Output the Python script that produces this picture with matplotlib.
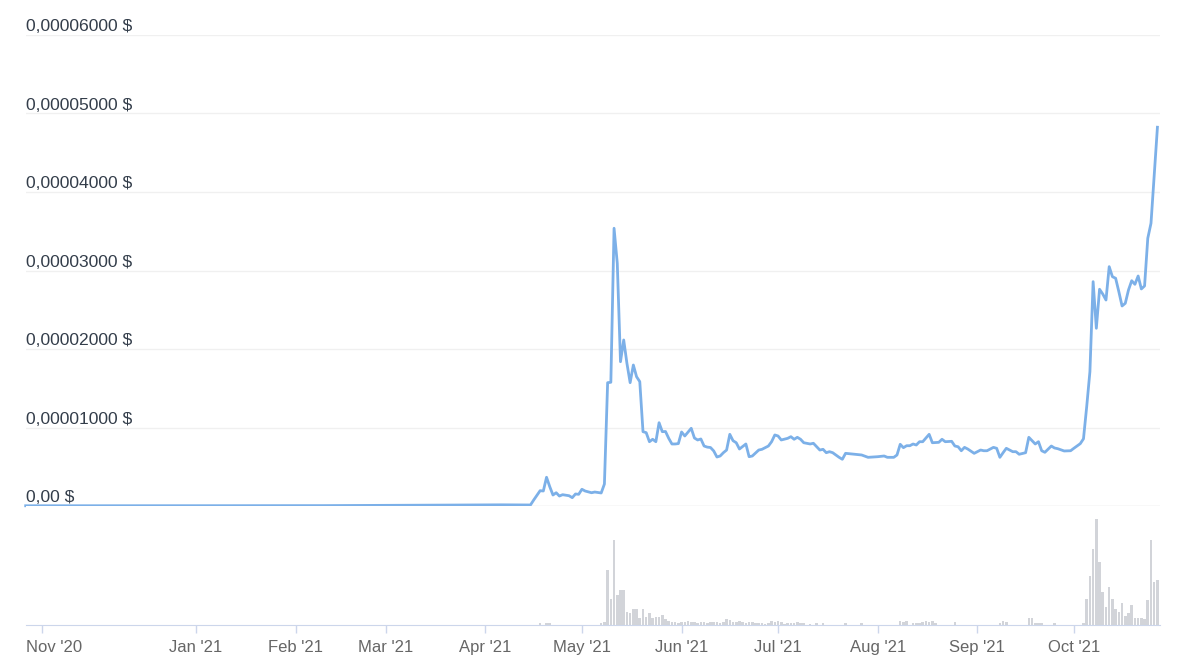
import numpy as np
import matplotlib.dates as mdates
from matplotlib import pyplot as plt

plt.rcParams['font.family'] = ['Liberation Sans', 'DejaVu Sans']

# data
BASE = np.datetime64('2021-01-01')

# price: day offset from 1 Jan 2021, price in units of 1e-8 $
price_days = [
    -53, -20, 10, 40, 60, 80, 95, 104, 105, 107, 108, 109, 110, 111, 112, 113,
    114, 116, 117, 118, 119, 120, 121, 123, 124, 126, 127, 128, 129, 130, 131,
    132, 133, 134, 135, 136, 137, 138, 139, 140, 141, 142, 143, 144, 145, 146,
    147, 148, 149, 150, 151, 152, 153, 154, 155, 156, 157, 158, 159, 160, 161,
    162, 163, 164, 165, 166, 167, 168, 169, 170, 171, 172, 173, 174, 175, 176,
    178, 179, 180, 181, 182, 184, 185, 186, 187, 188, 189, 191, 192, 193, 194,
    195, 196, 197, 198, 200, 201, 202, 205, 207, 209, 212, 214, 215, 217, 218,
    219, 220, 221, 222, 223, 224, 225, 226, 227, 228, 229, 231, 232, 233, 235,
    236, 237, 238, 239, 240, 242, 244, 245, 246, 248, 249, 250, 251, 252, 254,
    255, 256, 258, 259, 260, 261, 262, 263, 264, 266, 267, 268, 270, 272, 273,
    275, 276, 277, 278, 279, 280, 281, 282, 283, 284, 285, 286, 287, 288, 289,
    290, 291, 292, 293, 294, 295, 296, 297, 298, 299,
]
price_1e8 = [
    3, 3, 4, 5, 8, 12, 15, 13, 76, 195, 191, 366, 246, 140, 169, 127,
    144, 131, 106, 153, 149, 213, 191, 169, 178, 166, 280, 1571, 1576, 3538, 3092,
    1838, 2115, 1818, 1571, 1796, 1647, 1584, 947, 934, 819, 850, 819, 1061, 947, 949,
    862, 790, 790, 795, 943, 892, 940, 990, 866, 841, 854, 764, 750, 745, 701,
    624, 637, 679, 713, 913, 832, 806, 726, 758, 790, 628, 637, 675, 713, 722,
    764, 819, 905, 892, 841, 862, 883, 850, 875, 850, 806, 790, 799, 755, 713,
    722, 679, 692, 679, 620, 595, 671, 659, 650, 620, 628, 637, 620, 620, 650,
    786, 743, 768, 768, 790, 777, 819, 819, 866, 913, 806, 811, 850, 819, 824,
    764, 755, 704, 747, 726, 671, 713, 704, 704, 747, 735, 620, 679, 735, 692,
    692, 659, 679, 875, 832, 790, 819, 704, 684, 764, 739, 730, 701, 704, 735,
    794, 856, 1265, 1711, 2858, 2264, 2761, 2700, 2624, 3049, 2921, 2901, 2730, 2548, 2582,
    2752, 2870, 2824, 2930, 2765, 2803, 3411, 3602, 4217, 4825,
]

# daily volume (relative units), first bar on day 104
vol_first_day = 104
volume = [
    0, 0, 0, 2, 0, 2, 2, 0, 0, 0, 0, 0, 0, 0, 0, 0,            # 104-119
    0, 0, 0, 0, 0, 0, 2, 3, 55, 26, 85, 30, 35, 35, 13, 12,    # 120-135
    16, 16, 7, 16, 8, 12, 7, 8, 8, 10, 6, 4, 3, 3, 2, 3,       # 136-151
    3, 4, 3, 3, 2, 3, 3, 2, 3, 3, 3, 2, 3, 6, 5, 3,            # 152-167
    3, 4, 3, 2, 3, 3, 2, 2, 2, 1, 2, 4, 3, 4, 3, 1,            # 168-183
    2, 2, 2, 3, 2, 2, 0, 1, 0, 2, 0, 2, 0, 0, 0, 0,            # 184-199
    0, 0, 2, 0, 0, 0, 0, 2, 0, 0, 0, 0, 0, 0, 0, 0,            # 200-215
    0, 0, 0, 4, 3, 4, 0, 2, 2, 2, 3, 4, 3, 4, 2, 0,            # 216-231
    0, 0, 0, 0, 3, 0, 0, 0, 0, 0, 0, 0, 0, 0, 0, 0,            # 232-247
    0, 0, 2, 4, 3, 0, 0, 0, 0, 0, 0, 7, 7, 2, 2, 2,            # 248-263
    0, 0, 0, 2, 0, 0, 0, 0, 0, 0, 0, 0, 2, 26, 49, 76,         # 264-279
    106, 63, 33, 18, 38, 26, 16, 13, 22, 9, 12, 20, 7, 7, 7, 6,  # 280-295
    25, 85, 43, 45,                                            # 296-299
]

tick_dates = ['2020-11-14', '2021-01-01', '2021-02-01', '2021-03-01', '2021-04-01',
              '2021-05-01', '2021-06-01', '2021-07-01', '2021-08-01', '2021-09-01',
              '2021-10-01']
tick_labels = ["Nov '20", "Jan '21", "Feb '21", "Mar '21", "Apr '21", "May '21",
               "Jun '21", "Jul '21", "Aug '21", "Sep '21", "Oct '21"]

y_values = [0, 1e-5, 2e-5, 3e-5, 4e-5, 5e-5, 6e-5]
y_labels = ['0,00 $', '0,00001000 $', '0,00002000 $', '0,00003000 $',
            '0,00004000 $', '0,00005000 $', '0,00006000 $']

# build series
price_dates = BASE + np.array(price_days).astype('timedelta64[D]')
price = np.array(price_1e8) * 1e-8
vol_dates = BASE + (vol_first_day + np.arange(len(volume))).astype('timedelta64[D]')

# figure: 1200 x 669 px
W, H = 1200, 669
fig = plt.figure(figsize=(W / 100, H / 100), dpi=100)
left, right = 26, 1160
ax = fig.add_axes([left / W, 1 - 506 / H, (right - left) / W, (506 - 35) / H])
ax_vol = fig.add_axes([left / W, 1 - 625 / H, (right - left) / W, (625 - 506) / H], sharex=ax)

x0 = mdates.date2num(BASE) - 52.9
x1 = mdates.date2num(BASE) + 299.8
ax.set_xlim(x0, x1)

# price panel
for s in ax.spines.values():
    s.set_visible(False)
ax.set_ylim(0, 6e-5)
ax.set_yticks(y_values)
ax.grid(axis='y', color='#f0f0f0', lw=1)
ax.axhline(0, color='#e6e6e6', lw=1, zorder=1)
ax.tick_params(left=False, labelleft=False, bottom=False, labelbottom=False)
ax.plot(price_dates, price, color='#7cb0e8', lw=2.0, clip_on=False,
        solid_joinstyle='round', zorder=3)

for v, lab in zip(y_values, y_labels):
    ax.annotate(lab, xy=(0, v), xycoords=('axes fraction', 'data'),
                xytext=(0, 0.5), textcoords='offset points',
                ha='left', va='bottom', fontsize=12.6, color='#333d4a')

# volume panel
ax_vol.bar(vol_dates, volume, width=0.8, color='#d2d4d9', linewidth=0)
ax_vol.set_ylim(0, 119)
for name, s in ax_vol.spines.items():
    s.set_visible(name == 'bottom')
ax_vol.spines['bottom'].set_color('#ccd6eb')
ax_vol.set_yticks([])

ax_vol.set_xticks(mdates.date2num(np.array(tick_dates, dtype='datetime64[D]')))
ax_vol.set_xticklabels([''] + tick_labels[1:])
ax_vol.tick_params(axis='x', length=5.8, width=1, color='#ccd6eb',
                   labelcolor='#666666', labelsize=12, pad=5)
ax_vol.annotate(tick_labels[0], xy=(0, 0), xycoords='axes fraction',
                xytext=(0, -10.8), textcoords='offset points',
                ha='left', va='top', fontsize=12, color='#666666')

fig.savefig('out.png', dpi=100)
